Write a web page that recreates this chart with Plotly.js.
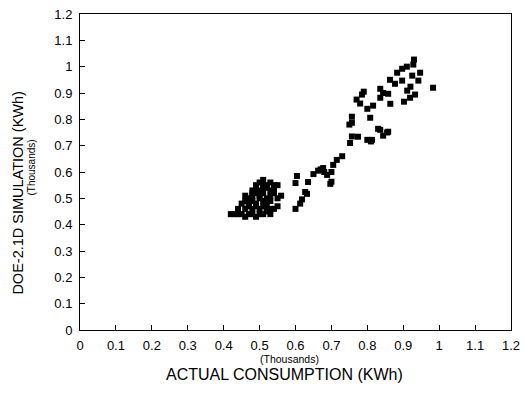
<!DOCTYPE html>
<html>
<head>
<meta charset="utf-8">
<script src="https://cdn.plot.ly/plotly-3.0.1.min.js"></script>
<style>html,body{margin:0;padding:0;background:#fff;}#chart{width:527px;height:394px;}</style>
</head>
<body>
<div id="chart"></div>
<script>
// Actual consumption (thousands KWh)
const actualCluster = [0.42,0.43,0.44,0.45,0.46,0.47,0.48,0.49,0.50,0.51,0.52,0.53,0.44,0.46,0.47,0.48,0.49,0.50,0.51,0.52,0.53,0.54,0.45,0.46,0.47,0.48,0.49,0.50,0.51,0.52,0.53,0.55,0.47,0.48,0.49,0.50,0.51,0.52,0.53,0.54,0.55,0.48,0.49,0.50,0.51,0.52,0.53,0.54,0.50,0.51,0.52,0.53,0.55,0.49,0.51,0.54,0.56,0.46,0.48];
const simCluster    = [0.44,0.44,0.44,0.44,0.43,0.44,0.44,0.43,0.44,0.44,0.45,0.44,0.46,0.46,0.47,0.46,0.47,0.46,0.47,0.46,0.46,0.46,0.48,0.49,0.48,0.49,0.48,0.50,0.49,0.48,0.49,0.47,0.50,0.51,0.52,0.51,0.52,0.50,0.51,0.52,0.50,0.53,0.54,0.53,0.55,0.54,0.53,0.55,0.56,0.57,0.55,0.56,0.55,0.55,0.54,0.53,0.51,0.51,0.52];

const actualMid = [0.60,0.613,0.618,0.627,0.632,0.60,0.604,0.635,0.65,0.663,0.677,0.688,0.70,0.70,0.697,0.705,0.715,0.73,0.752,0.757,0.774,0.80,0.81,0.836,0.855,0.67,0.68];
const simMid    = [0.46,0.48,0.496,0.524,0.517,0.558,0.585,0.562,0.592,0.605,0.615,0.589,0.60,0.563,0.555,0.627,0.646,0.66,0.71,0.735,0.734,0.722,0.716,0.76,0.75,0.61,0.60];

const actualHigh = [0.75,0.757,0.757,0.77,0.785,0.79,0.808,0.816,0.83,0.844,0.858,0.813,0.836,0.844,0.858,0.864,0.836,0.863,0.877,0.897,0.883,0.897,0.91,0.928,0.93,0.947,0.925,0.942,0.92,0.911,0.933,0.919,0.902,0.983,0.80,0.78];
const simHigh    = [0.78,0.787,0.81,0.875,0.894,0.905,0.806,0.852,0.764,0.738,0.753,0.722,0.882,0.90,0.897,0.859,0.916,0.95,0.935,0.947,0.977,0.992,1.0,1.008,1.027,0.977,0.966,0.947,0.924,0.909,0.894,0.882,0.867,0.92,0.84,0.86];

const xTicks = [0,0.1,0.2,0.3,0.4,0.5,0.6,0.7,0.8,0.9,1,1.1,1.2];
const xTickLabels = ['0','0.1','0.2','0.3','0.4','0.5','0.6','0.7','0.8','0.9','1','1.1','1.2'];

const xs = actualCluster.concat(actualMid, actualHigh);
const ys = simCluster.concat(simMid, simHigh);

const font = {family: 'Liberation Sans, Arial, sans-serif', color: '#000'};

const trace = {
  x: xs, y: ys, type: 'scatter', mode: 'markers',
  marker: {symbol: 'square', size: 6, color: '#000'},
  hoverinfo: 'skip'
};

const axisCommon = {
  range: [0, 1.2], tickvals: xTicks, ticktext: xTickLabels,
  showline: true, mirror: true, linecolor: '#000', linewidth: 1,
  ticks: 'inside', ticklen: 5, tickcolor: '#000', tickwidth: 1,
  showgrid: false, zeroline: false,
  tickfont: Object.assign({size: 13}, font)
};

const layout = {
  width: 527, height: 394,
  margin: {l: 80, r: 16, t: 14, b: 64},
  paper_bgcolor: '#fff', plot_bgcolor: '#fff',
  showlegend: false,
  xaxis: Object.assign({}, axisCommon, {ticklabelstandoff: 3}),
  yaxis: Object.assign({}, axisCommon, {ticklabelstandoff: 4}),
  annotations: [
    {text: '(Thousands)', xref: 'paper', yref: 'paper', x: 0.485, y: -0.093, xanchor: 'center', yanchor: 'middle', showarrow: false, font: Object.assign({size: 10.5}, font)},
    {text: 'ACTUAL CONSUMPTION (KWh)', xref: 'paper', yref: 'paper', x: 0.475, y: -0.142, xanchor: 'center', yanchor: 'middle', showarrow: false, font: Object.assign({size: 16}, font)},
    {text: 'DOE-2.1D SIMULATION (KWh)', xref: 'paper', yref: 'paper', x: -0.146, y: 0.435, xanchor: 'center', yanchor: 'middle', textangle: -90, showarrow: false, font: Object.assign({size: 14.5}, font)},
    {text: '(Thousands)', xref: 'paper', yref: 'paper', x: -0.113, y: 0.515, xanchor: 'center', yanchor: 'middle', textangle: -90, showarrow: false, font: Object.assign({size: 10}, font)}
  ]
};

Plotly.newPlot('chart', [trace], layout, {displayModeBar: false, staticPlot: true});
</script>
</body>
</html>
